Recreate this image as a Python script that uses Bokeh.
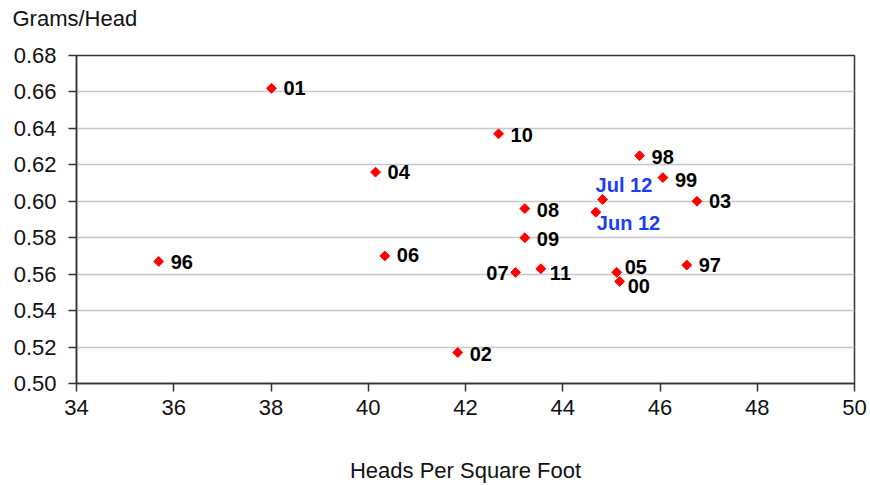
import math
from bokeh.plotting import figure
from bokeh.models import ColumnDataSource, FixedTicker, NumeralTickFormatter, Range1d, Title
from bokeh.core.properties import value
from bokeh.embed import file_html
from bokeh.resources import INLINE

# --- data ---
years = ["01", "10", "04", "98", "99", "03", "08", "09", "07", "11", "05", "00", "97", "96", "06", "02"]
heads = [38.01, 42.68, 40.15, 45.58, 46.06, 46.76, 43.22, 43.22, 43.03, 43.55, 45.11, 45.17, 46.55, 35.69, 40.34, 41.84]
grams = [0.662, 0.637, 0.616, 0.625, 0.613, 0.600, 0.596, 0.580, 0.561, 0.563, 0.561, 0.556, 0.565, 0.567, 0.570, 0.517]

months = ["Jul 12", "Jun 12"]
month_heads = [44.82, 44.68]
month_grams = [0.601, 0.594]

x_ticks = [34, 36, 38, 40, 42, 44, 46, 48, 50]
y_ticks = [0.50, 0.52, 0.54, 0.56, 0.58, 0.60, 0.62, 0.64, 0.66, 0.68]
y_title = "Grams/Head"
x_title = "Heads Per Square Foot"

# --- label placement (style, pixels) ---
offsets = {
    "01": (12, 0), "10": (12, 1), "04": (12, 0), "98": (12, 1), "99": (12, 2),
    "03": (12, 0), "08": (12, 1), "09": (12, 1), "07": (-7, 1), "11": (9, 4),
    "05": (8, -5), "00": (8, 5), "97": (12, 0), "96": (12, 1), "06": (12, -1),
    "02": (12, 1), "Jul 12": (-7, -14), "Jun 12": (1, 11),
}
aligns = {"07": "right"}

FONT = value("Liberation Sans")

p = figure(width=870, height=485, output_backend="svg", toolbar_location=None,
           x_range=Range1d(34, 50), y_range=Range1d(0.50, 0.68),
           min_border_left=76, min_border_right=16, min_border_top=55, min_border_bottom=102,
           title=y_title)
p.background_fill_color = "white"
p.border_fill_color = "white"
p.outline_line_color = "#333333"
p.outline_line_width = 1.5

p.title.text_font = "Liberation Sans"
p.title.text_font_size = "22px"
p.title.text_font_style = "normal"
p.title.text_color = "#111111"
p.title.align = "left"
p.title.vertical_align = "top"
p.title.offset = -64
p.title.standoff = 4

# spacer between the title and the plot frame
p.add_layout(Title(text=" ", text_font_size="14px", standoff=3), "above")

p.xgrid.visible = False
p.ygrid.grid_line_color = "#C8C8C8"
p.ygrid.grid_line_width = 1.5
p.ygrid.ticker = FixedTicker(ticks=y_ticks)

p.xaxis.ticker = FixedTicker(ticks=x_ticks)
p.yaxis.ticker = FixedTicker(ticks=y_ticks)
p.yaxis.formatter = NumeralTickFormatter(format="0.00")
for ax in (p.xaxis[0], p.yaxis[0]):
    ax.axis_line_color = "#333333"
    ax.axis_line_width = 1.5
    ax.major_tick_line_color = "#333333"
    ax.major_tick_line_width = 1.5
    ax.major_tick_out = 8
    ax.major_tick_in = 0
    ax.minor_tick_line_color = None
    ax.major_label_text_font = "Liberation Sans"
    ax.major_label_text_font_size = "22px"
    ax.major_label_text_color = "#111111"
p.yaxis.major_label_standoff = 12
p.xaxis.major_label_standoff = 8
p.xaxis.axis_label = x_title
p.xaxis.axis_label_text_font = "Liberation Sans"
p.xaxis.axis_label_text_font_size = "22px"
p.xaxis.axis_label_text_font_style = "normal"
p.xaxis.axis_label_text_color = "#111111"
p.xaxis.axis_label_standoff = 40

all_labels = years + months
all_x = heads + month_heads
all_y = grams + month_grams
colors = ["#000000"] * len(years) + ["#1C3DF5"] * len(months)

src = ColumnDataSource(dict(
    x=all_x, y=all_y, label=all_labels, color=colors,
    xo=[offsets[l][0] for l in all_labels],
    yo=[offsets[l][1] for l in all_labels],
    align=[aligns.get(l, "left") for l in all_labels],
))

p.scatter("x", "y", source=src, marker="square", size=7, angle=math.pi / 4,
          fill_color="#FF0000", line_color="#FF0000")
p.text("x", "y", text="label", source=src, x_offset="xo", y_offset="yo",
       text_align="align", text_baseline="middle", text_color="color",
       text_font=FONT, text_font_style="bold", text_font_size="20px")

open("out.html", "w").write(file_html(p, INLINE))
